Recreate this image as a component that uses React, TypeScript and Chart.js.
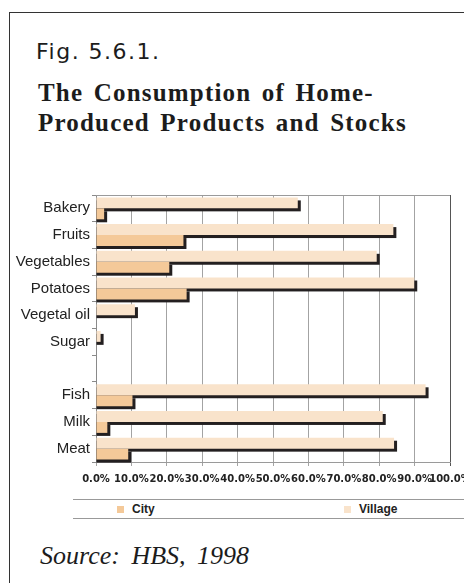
import React, { useEffect, useRef } from 'react';
import { Chart, registerables } from 'chart.js';

Chart.register(...registerables);

const categories = ['Bakery', 'Fruits', 'Vegetables', 'Potatoes', 'Vegetal oil', 'Sugar', '', 'Fish', 'Milk', 'Meat'];
const villageValues = [57.0, 84.0, 79.3, 89.9, 11.0, 1.3, null, 93.1, 81.0, 84.2];
const cityValues = [2.3, 24.7, 20.7, 25.6, 0, 0, null, 10.3, 3.2, 9.1];
const xTickValues = [0, 10, 20, 30, 40, 50, 60, 70, 80, 90, 100];
const seriesNames = ['Village', 'City'];
const seriesColors = ['#F9E3CB', '#F4C999'];

const shadowPlugin = {
  id: 'barShadow',
  beforeDatasetsDraw(chart: any) {
    const ctx = chart.ctx;
    ctx.save();
    ctx.fillStyle = '#231f20';
    chart.data.datasets.forEach((ds: any, i: number) => {
      const meta = chart.getDatasetMeta(i);
      meta.data.forEach((el: any, j: number) => {
        const v = ds.data[j];
        if (v == null) return;
        const { x, y, base, height } = el.getProps(['x', 'y', 'base', 'height'], true);
        const l = Math.min(x, base);
        const r = Math.max(x, base);
        if (r - l < 0.5) return;
        ctx.fillRect(l, y - height / 2 + 3, r - l + 3, height);
      });
    });
    ctx.restore();
  },
};

const topBorderPlugin = {
  id: 'topBorder',
  beforeDatasetsDraw(chart: any) {
    const { ctx, chartArea } = chart;
    ctx.save();
    ctx.strokeStyle = '#9a9a9a';
    ctx.lineWidth = 1;
    ctx.beginPath();
    ctx.moveTo(chartArea.left, Math.round(chartArea.top) + 0.5);
    ctx.lineTo(chartArea.right, Math.round(chartArea.top) + 0.5);
    ctx.stroke();
    ctx.restore();
  },
};

export default function App() {
  const ref = useRef<HTMLCanvasElement>(null);

  useEffect(() => {
    const chart = new Chart(ref.current as HTMLCanvasElement, {
      type: 'bar',
      data: {
        labels: categories,
        datasets: [
          {
            label: seriesNames[0],
            data: villageValues as any,
            backgroundColor: seriesColors[0],
            barPercentage: 1,
            categoryPercentage: 0.82,
          },
          {
            label: seriesNames[1],
            data: cityValues as any,
            backgroundColor: seriesColors[1],
            barPercentage: 1,
            categoryPercentage: 0.82,
          },
        ],
      },
      options: {
        indexAxis: 'y',
        responsive: false,
        animation: false,
        devicePixelRatio: 1,
        layout: { padding: { top: 5, right: 14, left: 0, bottom: 0 } },
        plugins: {
          legend: { display: false },
          tooltip: { enabled: false },
        },
        scales: {
          x: {
            type: 'linear',
            min: 0,
            max: 100,
            afterBuildTicks: (scale: any) => {
              scale.ticks = xTickValues.map((v) => ({ value: v }));
            },
            afterFit: (scale: any) => {
              scale.height = 28;
              scale.paddingLeft = 0;
              scale.paddingRight = 14;
            },
            ticks: {
              autoSkip: false,
              maxRotation: 0,
              padding: 7,
              color: '#222',
              font: { family: 'DejaVu Sans', size: 10, weight: 'bold' },
              callback: (v: any) => Number(v).toFixed(1) + '%',
            },
            grid: {
              color: (c: any) => (c.tick && c.tick.value === 100 ? '#555' : '#a3a3a3'),
              lineWidth: 1,
              tickLength: 4,
            },
            border: { color: '#9a9a9a' },
          },
          y: {
            type: 'category',
            afterFit: (scale: any) => {
              scale.width = 96;
              scale.paddingTop = 0;
              scale.paddingBottom = 0;
            },
            ticks: {
              autoSkip: false,
              padding: 2,
              color: '#222',
              font: { family: 'Liberation Sans', size: 15 },
            },
            grid: {
              drawOnChartArea: false,
              drawTicks: true,
              tickLength: 4,
              color: '#8a8a8a',
              offset: true,
            },
            border: { color: '#8a8a8a' },
          },
        },
      },
      plugins: [shadowPlugin, topBorderPlugin],
    } as any);
    return () => chart.destroy();
  }, []);

  const textColor = '#1c1c1c';

  return (
    <div style={{ position: 'absolute', left: 0, top: 0, width: 464, height: 583, overflow: 'hidden', background: '#fff' }}>
      <div
        style={{
          position: 'absolute',
          left: 9,
          top: 12,
          width: 700,
          height: 800,
          borderLeft: '1px solid #333',
          borderTop: '1px solid #333',
        }}
      />
      <div
        style={{
          position: 'absolute',
          left: 36,
          top: 40.5,
          font: '22px "DejaVu Sans"',
          lineHeight: '22px',
          letterSpacing: 1.5,
          color: textColor,
          whiteSpace: 'nowrap',
        }}
      >
        Fig. 5.6.1.
      </div>
      <div
        style={{
          position: 'absolute',
          left: 38,
          top: 78.3,
          font: 'bold 25px "Liberation Serif"',
          lineHeight: '30px',
          letterSpacing: 1.2,
          wordSpacing: 3,
          color: textColor,
          whiteSpace: 'nowrap',
        }}
      >
        The Consumption of Home-
        <br />
        Produced Products and Stocks
      </div>
      <canvas
        ref={ref}
        width={464}
        height={300}
        style={{ position: 'absolute', left: 0, top: 190, width: 464, height: 300 }}
      />
      <div
        style={{
          position: 'absolute',
          left: 73,
          top: 499,
          width: 500,
          height: 18,
          borderTop: '1px solid #999',
          borderBottom: '1px solid #999',
        }}
      />
      <div style={{ position: 'absolute', left: 117, top: 506, width: 7, height: 7, background: seriesColors[1] }} />
      <div
        style={{
          position: 'absolute',
          left: 132,
          top: 503.1,
          font: 'bold 12px "Liberation Sans"',
          lineHeight: '12px',
          color: '#222',
        }}
      >
        {seriesNames[1]}
      </div>
      <div style={{ position: 'absolute', left: 344, top: 506, width: 7, height: 7, background: seriesColors[0] }} />
      <div
        style={{
          position: 'absolute',
          left: 359,
          top: 503.1,
          font: 'bold 12px "Liberation Sans"',
          lineHeight: '12px',
          color: '#222',
        }}
      >
        {seriesNames[0]}
      </div>
      <div
        style={{
          position: 'absolute',
          left: 40,
          top: 542.7,
          font: 'italic 26px "Liberation Serif"',
          lineHeight: '26px',
          wordSpacing: 5,
          color: textColor,
          whiteSpace: 'nowrap',
        }}
      >
        Source: HBS, 1998
      </div>
    </div>
  );
}
